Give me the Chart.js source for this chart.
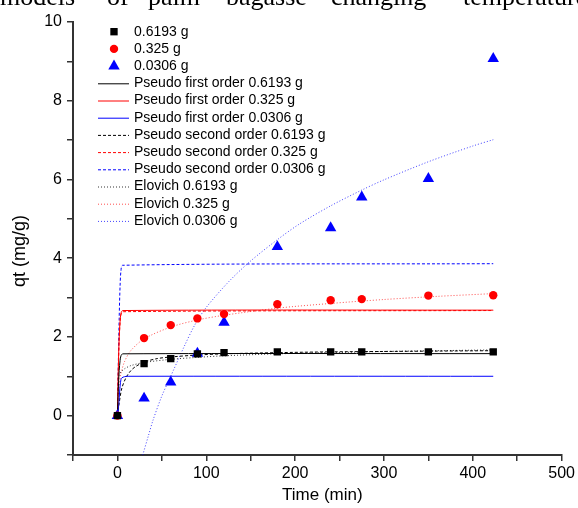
<!DOCTYPE html>
<html>
<head>
<meta charset="utf-8">
<script src="https://cdn.jsdelivr.net/npm/chart.js@4.4.0/dist/chart.umd.min.js"></script>
<style>
    body { margin: 0; background: #fff; }
    #wrap { position: relative; width: 578px; height: 508px; overflow: hidden; }
    #caption { position: absolute; left: 0; top: -16px; width: 578px; height: 30px;
        font-family: "Liberation Serif", "Times New Roman", serif; font-size: 26px; line-height: 26px; }
    #caption span { position: absolute; top: 0; white-space: nowrap; }
    canvas { position: absolute; left: 0; top: 0; }
</style>
</head>
<body>
<div id="wrap">
    <canvas id="kinChart" width="578" height="508"></canvas>
    <div id="caption">
        <span style="left:0px">models</span>
        <span style="left:107px">of</span>
        <span style="left:148px">palm</span>
        <span style="left:226px">bagasse</span>
        <span style="left:331px">changing</span>
        <span style="left:463px">temperature</span>
    </div>
</div>
<script>
// Datos experimentales (tiempo en min, qt en mg/g)
const timeObs = [0, 30, 60, 90, 120, 180, 240, 275, 350, 423];
const qt06193 = [0, 1.32, 1.45, 1.57, 1.60, 1.62, 1.62, 1.62, 1.62, 1.62];
const qt0325 = [0, 1.97, 2.30, 2.47, 2.58, 2.83, 2.93, 2.96, 3.05, 3.06];
const qt00306 = [0, 0.44, 0.85, 1.58, 2.37, 4.29, 4.77, 5.55, 6.02, 9.07];

// Curvas de pseudo primer orden
const pfoTime = [0, 1, 2, 3, 4, 6, 423];
const pfo06193 = [0, 0.70, 1.15, 1.40, 1.52, 1.57, 1.575];
const pfo0325 = [0, 1.20, 2.00, 2.40, 2.60, 2.67, 2.68];
const pfoTimeB = [0, 1, 2, 3, 4, 5, 8, 12, 423];
const pfo00306 = [0, 0.15, 0.45, 0.75, 0.92, 0.96, 0.99, 1.0, 1.0];

// Curvas de pseudo segundo orden
const psoTimeK = [0, 2, 5, 10, 15, 20, 30, 45, 60, 90, 120, 180, 240, 300, 360, 423];
const pso06193 = [0, 0.32, 0.70, 0.98, 1.14, 1.24, 1.36, 1.45, 1.49, 1.54, 1.57, 1.60, 1.62, 1.63, 1.64, 1.65];
const psoTime = [0, 1, 2, 3, 4, 6, 423];
const pso0325 = [0, 1.10, 1.90, 2.35, 2.56, 2.64, 2.67];
const pso00306 = [0, 1.30, 2.50, 3.30, 3.68, 3.82, 3.86];

// Curvas de Elovich
const eloTime = [1, 2, 4, 8, 15, 30, 60, 90, 120, 180, 240, 300, 360, 423];
const elo06193 = [0.94, 1.03, 1.11, 1.19, 1.27, 1.35, 1.43, 1.48, 1.52, 1.57, 1.60, 1.63, 1.65, 1.67];
const elo0325 = [0.47, 0.77, 1.07, 1.37, 1.65, 1.95, 2.25, 2.43, 2.55, 2.73, 2.85, 2.95, 3.03, 3.10];
const eloTimeB = [28.5, 35, 40, 50, 59, 75, 87, 100, 126, 150, 180, 205, 240, 275, 300, 350, 400, 423];
const elo00306 = [-1, -0.5, -0.12, 0.5, 0.95, 1.75, 2.3, 2.75, 3.42, 3.93, 4.47, 4.87, 5.33, 5.73, 5.99, 6.45, 6.85, 7.01];

// Titulos de los ejes
const xTitle = 'Time (min)';
const yTitle = 'qt (mg/g)';

const BLACK = '#000000';
const RED = '#ff0000';
const BLUE = '#0000ff';

function toXY(xs, ys) {
    return xs.map((x, i) => ({ x: x, y: ys[i] }));
}

function pointSet(label, ys, color, style, radius) {
    return {
        label: label,
        data: toXY(timeObs, ys),
        pointStyle: style,
        pointRadius: radius,
        pointBackgroundColor: color,
        pointBorderWidth: 0,
        borderColor: color,
        backgroundColor: color,
        showLine: false
    };
}

function lineSet(label, xs, ys, color, dash) {
    return {
        label: label,
        data: toXY(xs, ys),
        showLine: true,
        borderColor: color,
        backgroundColor: color,
        borderWidth: 1,
        borderDash: dash,
        pointRadius: 0,
        tension: 0.3,
        fill: false
    };
}

const DOT = [1, 2];
const DASH = [3, 2];

const datasets = [
    pointSet('0.6193 g', qt06193, BLACK, 'rect', 5.2),
    pointSet('0.325 g', qt0325, RED, 'circle', 4.2),
    pointSet('0.0306 g', qt00306, BLUE, 'triangle', 6.6),
    lineSet('Pseudo first order 0.6193 g', pfoTime, pfo06193, BLACK, []),
    lineSet('Pseudo first order 0.325 g', pfoTime, pfo0325, RED, []),
    lineSet('Pseudo first order 0.0306 g', pfoTimeB, pfo00306, BLUE, []),
    lineSet('Pseudo second order 0.6193 g', psoTimeK, pso06193, BLACK, DASH),
    lineSet('Pseudo second order 0.325 g', psoTime, pso0325, RED, DASH),
    lineSet('Pseudo second order 0.0306 g', psoTime, pso00306, BLUE, DASH),
    lineSet('Elovich 0.6193 g', eloTime, elo06193, 'rgba(0,0,0,0.8)', DOT),
    lineSet('Elovich 0.325 g', eloTime, elo0325, 'rgba(255,0,0,0.7)', DOT),
    lineSet('Elovich 0.0306 g', eloTimeB, elo00306, 'rgba(0,0,255,0.75)', DOT)
];

// Leyenda dibujada dentro del area del grafico, y titulos de ejes
const insideLegend = {
    id: 'insideLegend',
    afterDraw(chart) {
        const ctx = chart.ctx;
        const x0 = 98, x1 = 129, textX = 134;
        const y0 = 31.7, step = 17.2;
        ctx.save();
        ctx.font = '14px "Liberation Sans", Arial, sans-serif';
        ctx.textBaseline = 'middle';
        ctx.fillStyle = '#000';
        chart.data.datasets.forEach((ds, i) => {
            const y = y0 + i * step;
            if (ds.showLine) {
                ctx.save();
                ctx.strokeStyle = ds.borderColor;
                ctx.lineWidth = 1;
                ctx.setLineDash(ds.borderDash);
                ctx.beginPath();
                ctx.moveTo(x0, y + 0.5);
                ctx.lineTo(x1, y + 0.5);
                ctx.stroke();
                ctx.restore();
            } else {
                ctx.fillStyle = ds.pointBackgroundColor;
                Chart.helpers.drawPoint(ctx, {
                    pointStyle: ds.pointStyle,
                    radius: ds.pointRadius,
                    borderWidth: 0,
                    rotation: 0
                }, 114, y);
                ctx.fillStyle = '#000';
            }
            ctx.fillText(ds.label, textX, y);
        });

        // titulos de los ejes
        const area = chart.chartArea;
        ctx.textAlign = 'center';
        ctx.font = '17px "Liberation Sans", Arial, sans-serif';
        ctx.fillText(xTitle, (area.left + area.right) / 2 + 5, 495);
        ctx.translate(20, 251);
        ctx.rotate(-Math.PI / 2);
        ctx.font = '18px "Liberation Sans", Arial, sans-serif';
        ctx.fillText(yTitle, 0, 0);
        ctx.restore();
    }
};

const axisFont = { family: '"Liberation Sans", Arial, sans-serif', size: 16 };

const ctx = document.getElementById('kinChart').getContext('2d');
const kinChart = new Chart(ctx, {
    type: 'scatter',
    data: { datasets: datasets },
    options: {
        responsive: false,
        animation: false,
        layout: { padding: { left: 0, right: 16, top: 22, bottom: 0 } },
        plugins: {
            legend: { display: false },
            tooltip: { enabled: false }
        },
        scales: {
            x: {
                type: 'linear',
                min: -50,
                max: 500,
                afterFit: s => { s.height = 53; },
                ticks: {
                    stepSize: 50,
                    autoSkip: false,
                    maxRotation: 0,
                    color: '#000',
                    font: axisFont,
                    padding: 3,
                    callback: v => (v % 100 === 0 ? v : '')
                },
                grid: { drawOnChartArea: false, drawTicks: true, tickLength: 6, color: '#333', lineWidth: 1.5 },
                border: { display: true, color: '#333', width: 2 }
            },
            y: {
                type: 'linear',
                min: -1,
                max: 10,
                afterFit: s => { s.width = 73; },
                ticks: {
                    stepSize: 1,
                    autoSkip: false,
                    color: '#000',
                    font: axisFont,
                    padding: 5,
                    callback: v => (v % 2 === 0 ? v : '')
                },
                grid: { drawOnChartArea: false, drawTicks: true, tickLength: 6, color: '#333', lineWidth: 1.5 },
                border: { display: true, color: '#333', width: 2 }
            }
        }
    },
    plugins: [insideLegend]
});
</script>
</body>
</html>
